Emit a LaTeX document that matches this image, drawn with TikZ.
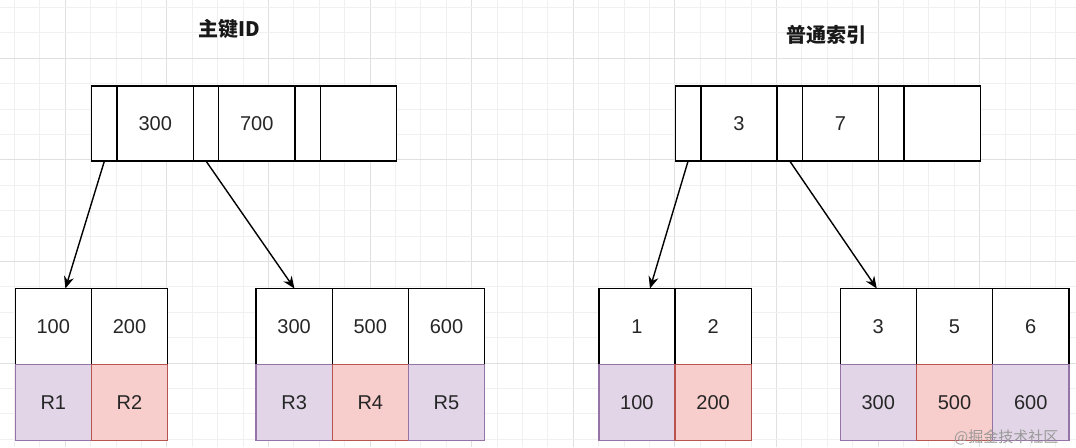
\documentclass[tikz,border=0pt]{standalone}
\usepackage{fontspec}
\setmainfont{Liberation Sans}
\newfontfamily\cjk{Noto Sans CJK SC}
\usetikzlibrary{arrows.meta}
\definecolor{purplefill}{HTML}{E1D5E7}
\definecolor{purpleline}{HTML}{9673A6}
\definecolor{redfill}{HTML}{F8CECC}
\definecolor{redline}{HTML}{B85450}
\definecolor{minorgrid}{HTML}{F0F0F0}
\definecolor{majorgrid}{HTML}{E0E0E0}
\tikzset{
  cellbox/.style={draw=black, line width=1.4pt, fill=white, inner sep=0pt, outer sep=0pt, font=\fontsize{20}{24}\selectfont, text=black!85},
  narrow/.style={cellbox, minimum width=25.4pt, minimum height=75pt},
  wide/.style={cellbox, minimum width=76.2pt, minimum height=75pt},
  leaf/.style={cellbox, minimum width=76.2pt, minimum height=76pt},
  purplecell/.style={leaf, draw=purpleline, fill=purplefill},
  redcell/.style={leaf, draw=redline, fill=redfill},
  title/.style={font=\cjk\bfseries\fontsize{20}{24}\selectfont, text=black!90},
  pointer/.style={line width=1.4pt, -{Stealth[length=12pt,width=10pt]}},
}
\begin{document}
\begin{tikzpicture}[x=1pt,y=-1pt]
\useasboundingbox (0,0) rectangle (1076,447);
\fill[white] (0,0) rectangle (1076,447);
% grid
\foreach \k in {0,...,41}{
  \pgfmathsetmacro{\gx}{14.5+25.4*\k}
  \pgfmathtruncatemacro{\m}{mod(\k+2,4)}
  \ifnum\m=0
    \draw[majorgrid, line width=1pt] (\gx,0) -- (\gx,447);
  \else
    \draw[minorgrid, line width=1pt] (\gx,0) -- (\gx,447);
  \fi
}
\foreach \k in {0,...,17}{
  \pgfmathsetmacro{\gy}{7.5+25.4*\k}
  \pgfmathtruncatemacro{\m}{mod(\k+2,4)}
  \ifnum\m=0
    \draw[majorgrid, line width=1pt] (0,\gy) -- (1076,\gy);
  \else
    \draw[minorgrid, line width=1pt] (0,\gy) -- (1076,\gy);
  \fi
}
% titles
\node[title] (t1) at (229,29) {主键ID};
\node[title] (t2) at (826,35) {普通索引};
% top node left
\node[narrow, anchor=north west] (a0) at (91.7,86) {};
\node[wide, anchor=north west] (a1) at (a0.north east) {300};
\node[narrow, anchor=north west] (a2) at (a1.north east) {};
\node[wide, anchor=north west] (a3) at (a2.north east) {700};
\node[narrow, anchor=north west] (a4) at (a3.north east) {};
\node[wide, anchor=north west] (a5) at (a4.north east) {};
% top node right
\node[narrow, anchor=north west] (b0) at (675.4,86) {};
\node[wide, anchor=north west] (b1) at (b0.north east) {3};
\node[narrow, anchor=north west] (b2) at (b1.north east) {};
\node[wide, anchor=north west] (b3) at (b2.north east) {7};
\node[narrow, anchor=north west] (b4) at (b3.north east) {};
\node[wide, anchor=north west] (b5) at (b4.north east) {};
% leaves, key row
\node[leaf, anchor=north west] (p1) at (15.2,288.5) {100};
\node[leaf, anchor=north west] (p2) at (p1.north east) {200};
\node[leaf, anchor=north west] (p3) at (256,288.5) {300};
\node[leaf, anchor=north west] (p4) at (p3.north east) {500};
\node[leaf, anchor=north west] (p5) at (p4.north east) {600};
\node[leaf, anchor=north west] (q1) at (598.8,288.5) {1};
\node[leaf, anchor=north west] (q2) at (q1.north east) {2};
\node[leaf, anchor=north west] (q3) at (840.2,288.5) {3};
\node[leaf, anchor=north west] (q4) at (q3.north east) {5};
\node[leaf, anchor=north west] (q5) at (q4.north east) {6};
% leaves, value row
\node[purplecell, anchor=north west] (pr1) at (p1.south west) {R1};
\node[redcell, anchor=north west] (pr2) at (p2.south west) {R2};
\node[purplecell, anchor=north west] (pr3) at (p3.south west) {R3};
\node[redcell, anchor=north west] (pr4) at (p4.south west) {R4};
\node[purplecell, anchor=north west] (pr5) at (p5.south west) {R5};
\node[purplecell, anchor=north west] (qr1) at (q1.south west) {100};
\node[redcell, anchor=north west] (qr2) at (q2.south west) {200};
\node[purplecell, anchor=north west] (qr3) at (q3.south west) {300};
\node[redcell, anchor=north west] (qr4) at (q4.south west) {500};
\node[purplecell, anchor=north west] (qr5) at (q5.south west) {600};
% pointers
\draw[pointer] (a0.south) -- ([xshift=50.2pt]p1.north west);
\draw[pointer] (a2.south) -- ([xshift=38.4pt]p3.north west);
\draw[pointer] (b0.south) -- ([xshift=51.2pt]q1.north west);
\draw[pointer] (b2.south) -- ([xshift=36.6pt]q3.north west);
% watermark
\node[anchor=west, text=black!40, font=\cjk\fontsize{15}{18}\selectfont, inner sep=0pt] (wm) at (954,437) {@掘金技术社区};
\end{tikzpicture}
\end{document}
